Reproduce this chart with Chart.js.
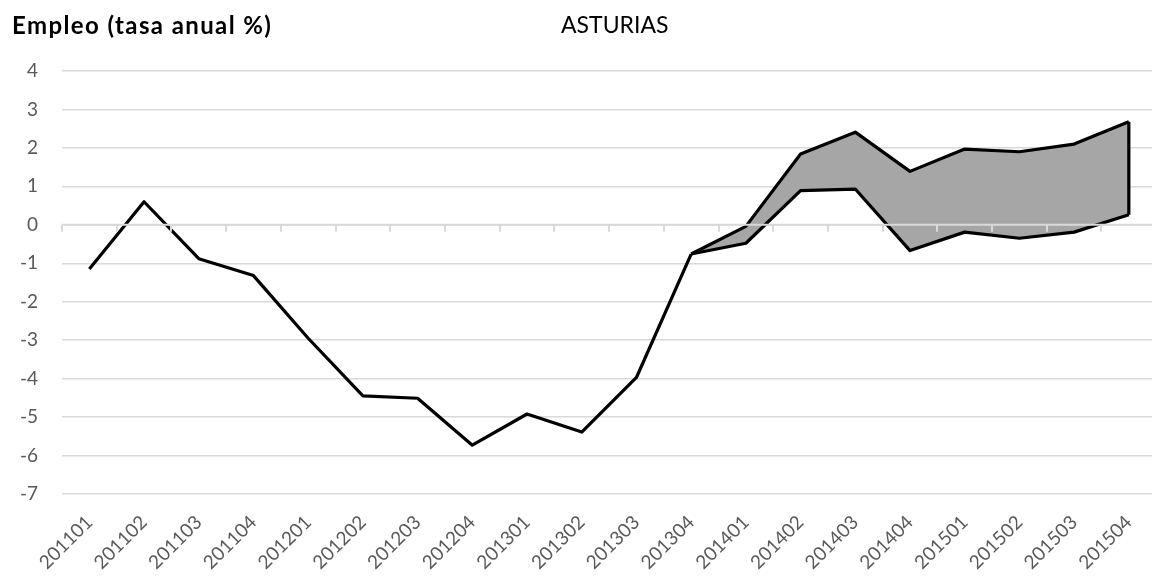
<!DOCTYPE html>
<html>
<head>
<meta charset="utf-8">
<script src="https://cdn.jsdelivr.net/npm/chart.js@4/dist/chart.umd.min.js"></script>
<style>
  html, body { margin: 0; padding: 0; background: #fff; overflow: hidden; width: 1152px; height: 583px; }
  #wrap { position: absolute; left: 0; top: 0; width: 1162px; height: 583px; }
  .t { position: absolute; white-space: nowrap; font-family: Lato, "Open Sans", sans-serif; color: #000; line-height: 1; }
  #title { left: 12px; top: 13px; font-size: 24px; font-weight: bold; letter-spacing: 1.4px; }
  #sub { left: 561px; top: 13px; font-size: 23px; }
</style>
</head>
<body>
<div id="wrap"><canvas id="c" width="1162" height="583"></canvas></div>
<div class="t" id="title">Empleo (tasa anual %)</div>
<div class="t" id="sub">ASTURIAS</div>
<script>
const categories = ['201101','201102','201103','201104','201201','201202','201203','201204','201301','201302','201303','201304','201401','201402','201403','201404','201501','201502','201503','201504'];
const empleo = [-1.15, 0.60, -0.88, -1.32, -2.95, -4.45, -4.51, -5.73, -4.92, -5.39, -3.97, -0.76, null, null, null, null, null, null, null, null];
const bandaSuperior = [null, null, null, null, null, null, null, null, null, null, null, -0.76, -0.04, 1.84, 2.41, 1.39, 1.97, 1.90, 2.10, 2.68];
const bandaInferior = [null, null, null, null, null, null, null, null, null, null, null, -0.76, -0.48, 0.89, 0.93, -0.67, -0.19, -0.35, -0.19, 0.26];
const yTicks = [4, 3, 2, 1, 0, -1, -2, -3, -4, -5, -6, -7];

const axisPlugin = {
  id: 'axisOverlay',
  afterDatasetsDraw(chart) {
    const ctx = chart.ctx;
    const xs = chart.scales.x, ys = chart.scales.y;
    const area = chart.chartArea;
    const y0 = ys.getPixelForValue(0);
    const n = categories.length;
    const half = (xs.getPixelForValue(1) - xs.getPixelForValue(0)) / 2;
    ctx.save();
    const last = n - 1;
    ctx.strokeStyle = '#000';
    ctx.lineWidth = 3.2;
    ctx.beginPath();
    ctx.moveTo(xs.getPixelForValue(last), ys.getPixelForValue(bandaSuperior[last]));
    ctx.lineTo(xs.getPixelForValue(last), ys.getPixelForValue(bandaInferior[last]));
    ctx.stroke();
    ctx.strokeStyle = '#d9d9d9';
    ctx.lineWidth = 2;
    ctx.beginPath();
    ctx.moveTo(area.left, y0);
    ctx.lineTo(area.right, y0);
    ctx.stroke();
    ctx.beginPath();
    for (let i = 0; i <= n; i++) {
      const x = Math.round(xs.getPixelForValue(Math.min(i, n - 1)) + (i === n ? half : -half));
      ctx.moveTo(x, y0);
      ctx.lineTo(x, y0 + 7);
    }
    ctx.stroke();
    ctx.restore();
  }
};

new Chart(document.getElementById('c'), {
  type: 'line',
  data: {
    labels: categories,
    datasets: [
      { label: 'Empleo', data: empleo, borderColor: '#000', borderWidth: 3.2, pointRadius: 0, fill: false, tension: 0, borderJoinStyle: 'round', spanGaps: false },
      { label: 'Superior', data: bandaSuperior, borderColor: '#000', borderWidth: 3.2, pointRadius: 0, fill: '+1', backgroundColor: '#a6a6a6', tension: 0, borderJoinStyle: 'round' },
      { label: 'Inferior', data: bandaInferior, borderColor: '#000', borderWidth: 3.2, pointRadius: 0, fill: false, tension: 0, borderJoinStyle: 'round' }
    ]
  },
  options: {
    responsive: false,
    animation: false,
    layout: { padding: { top: 71, right: 2, bottom: 0, left: 0 } },
    plugins: {
      legend: { display: false },
      title: { display: false },
      tooltip: { enabled: false },
      filler: { drawTime: 'beforeDatasetsDraw' }
    },
    scales: {
      x: {
        type: 'category',
        offset: true,
        grid: { display: false, drawTicks: false },
        border: { display: false },
        ticks: { minRotation: 45, maxRotation: 45, autoSkip: false, color: '#595959', padding: 17, font: { family: 'Lato', size: 19 } },
        afterFit(scale) { scale.height = 89; }
      },
      y: {
        min: -7, max: 4,
        afterBuildTicks(scale) { scale.ticks = yTicks.map(v => ({ value: v })); },
        grid: { color: '#d9d9d9', lineWidth: 1.5, drawTicks: false },
        border: { display: false },
        ticks: { color: '#595959', padding: 24, font: { family: 'Lato', size: 19 } },
        afterFit(scale) { scale.width = 62; }
      }
    }
  },
  plugins: [axisPlugin]
});
</script>
</body>
</html>
